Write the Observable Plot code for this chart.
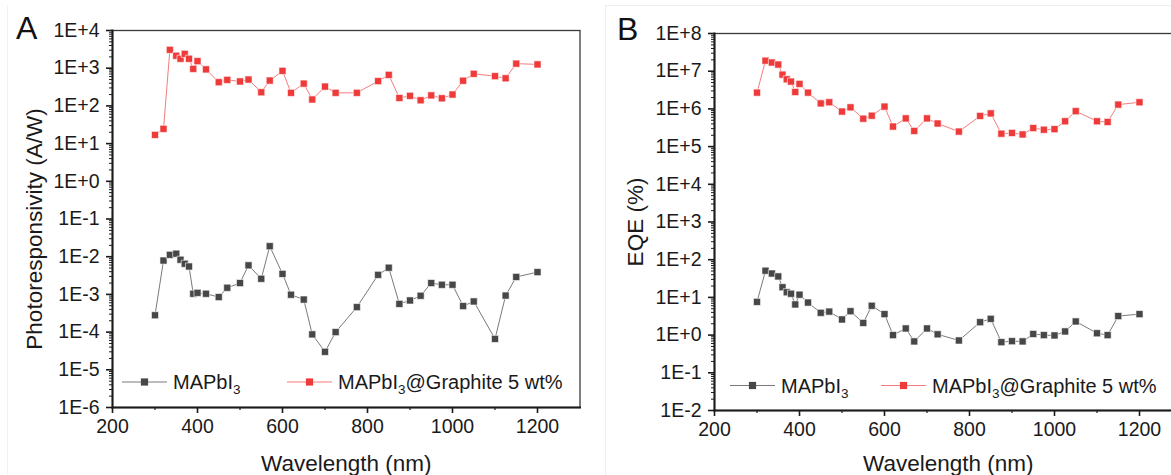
<!DOCTYPE html>
<html>
<head>
<meta charset="utf-8">
<script src="https://cdn.jsdelivr.net/npm/d3@7"></script>
<script src="https://cdn.jsdelivr.net/npm/@observablehq/plot@0.6"></script>
<style>
  html, body { margin: 0; padding: 0; background: #fff; overflow: hidden; width: 1171px; height: 475px; }
  #wrap { position: relative; width: 1171px; height: 475px; overflow: hidden; font-family: "Liberation Sans", Arial, sans-serif; }
  .panel { position: absolute; top: 0; }
  .letter { position: absolute; font-size: 32px; line-height: 1; color: #111; }
  #boxB { position: absolute; left: 605px; top: 5px; width: 600px; height: 500px; border: 1px solid #efefef; }
  #boxA { position: absolute; left: 7px; top: 5px; width: 585px; height: 500px; border-left: 1px solid #f2f2f2; }
</style>
</head>
<body>
<div id="wrap">
  <div id="boxA"></div>
  <div id="boxB"></div>
</div>
<script>
// ---- Data ----
const wavelength = [300,320,335,350,360,370,380,390,400,420,450,470,500,520,550,570,600,620,650,670,700,725,775,825,850,875,900,925,950,975,1000,1025,1050,1100,1125,1150,1200];

const respMAPbI3 = [2.8e-4,7.9e-3,0.0112,0.012,8.3e-3,6.5e-3,5.5e-3,1.04e-3,1.1e-3,
  1.04e-3,8.5e-4,1.5e-3,2.0e-3,5.9e-3,2.6e-3,0.019,
  3.5e-3,9.8e-4,7.3e-4,8.7e-5,3.0e-5,1.0e-4,
  4.6e-4,3.3e-3,5.1e-3,5.6e-4,6.9e-4,9.2e-4,2.0e-3,1.8e-3,1.8e-3,
  4.9e-4,6.5e-4,6.6e-5,9.3e-4,2.9e-3,3.9e-3];
const respGraphite = [17,24.6,3070,2140,1780,2400,1780,960,1540,
  930,425,490,445,500,230,470,
  850,222,390,148,325,222,
  222,455,665,162,185,141,190,159,200,
  465,710,615,540,1320,1260];

const eqeMAPbI3 = [7.6,51,43,36,18.6,13.7,12.5,6.5,11.8,
  7.3,3.9,4.2,2.6,4.3,2.1,6.0,
  3.6,1.0,1.5,0.68,1.5,1.05,
  0.72,2.2,2.7,0.65,0.69,0.68,1.07,1.0,0.98,
  1.25,2.3,1.12,1.0,3.2,3.6];
const eqeGraphite = [2.7e6,1.9e7,1.7e7,1.5e7,8.1e6,6.1e6,5.3e6,2.8e6,4.6e6,
  2.7e6,1.4e6,1.5e6,8.5e5,1.1e6,5.5e5,6.6e5,
  1.15e6,3.4e5,5.6e5,2.6e5,5.6e5,4.1e5,
  2.5e5,6.5e5,7.6e5,2.2e5,2.3e5,2.1e5,3.1e5,2.8e5,2.9e5,
  4.7e5,8.7e5,4.7e5,4.5e5,1.3e6,1.5e6];

const seriesNames = ["MAPbI3", "MAPbI3@Graphite 5 wt%"];
const markerColors = ["#474747", "#ef3a3a"];
const lineColors = ["#7a7a7a", "#f47c7c"];
const xTicksMajor = [200, 400, 600, 800, 1000, 1200];
const xTicksMinor = [300, 500, 700, 900, 1100];
const xDomain = [200, 1300];
const xTitle = "Wavelength (nm)";
const yExpA = [-6, 4];
const yExpB = [-2, 8];

// ---- Helpers ----
const fmtE = d => {
  const e = Math.round(Math.log10(d));
  return "1E" + (e >= 0 ? "+" : "-") + Math.abs(e);
};

function makePanel({expRange, black, red, ylabel, yLabelDx, yLabelDy, xLabelDy, left, width, marginLeft, marginRight, marginTop, marginBottom}) {
  const rows = [];
  wavelength.forEach((w, i) => rows.push({w, v: black[i], s: 0}));
  wavelength.forEach((w, i) => rows.push({w, v: red[i], s: 1}));
  const exps = d3.range(expRange[0], expRange[1] + 1);
  const major = exps.map(e => Math.pow(10, e));
  const minor = exps.slice(0, -1).flatMap(e => d3.range(2, 10).map(k => k * Math.pow(10, e)));
  const svg = Plot.plot({
    width, height: 475,
    marginLeft, marginRight, marginTop, marginBottom,
    style: {fontFamily: "'Liberation Sans', Arial, sans-serif", fontSize: "19.5px", color: "#1a1a1a", background: "transparent", overflow: "visible"},
    x: {domain: xDomain},
    y: {type: "log", domain: [major[0], major[major.length - 1]]},
    marks: [
      Plot.axisY({ticks: minor, tickSize: 3, tickFormat: () => "", label: null, strokeWidth: 1}),
      Plot.axisY({ticks: major, tickSize: 6, tickPadding: 7, tickFormat: fmtE, strokeWidth: 1.6, label: null}),
      Plot.axisX({ticks: xTicksMinor, tickSize: 3, tickFormat: () => "", label: null, strokeWidth: 1.2}),
      Plot.axisX({ticks: xTicksMajor, tickSize: 6, tickPadding: 6, tickFormat: d => String(d), strokeWidth: 1.6, label: null}),
      Plot.text([ylabel], {frameAnchor: "left", rotate: -90, textAnchor: "middle", lineAnchor: "middle",
        dx: yLabelDx, dy: yLabelDy, fontSize: 22.5, fill: "#1a1a1a"}),
      Plot.text([xTitle], {frameAnchor: "bottom", textAnchor: "middle", lineAnchor: "middle",
        dy: xLabelDy, fontSize: 22.5, fill: "#1a1a1a"}),
      Plot.frame({stroke: "#3a3a3a", strokeWidth: 1.3}),
      Plot.frame({anchor: "left", stroke: "#1a1a1a", strokeWidth: 2}),
      Plot.frame({anchor: "bottom", stroke: "#1a1a1a", strokeWidth: 2}),
      Plot.line(rows, {x: "w", y: "v", z: "s", stroke: d => lineColors[d.s], strokeWidth: 1}),
      Plot.dot(rows, {x: "w", y: "v", symbol: "square", r: 4, fill: d => markerColors[d.s], stroke: "#fff", strokeWidth: 0.6})
    ]
  });
  svg.classList.add("panel");
  svg.style.left = left + "px";
  return svg;
}

const wrap = document.getElementById("wrap");
wrap.appendChild(makePanel({expRange: yExpA, black: respMAPbI3, red: respGraphite, ylabel: "Photoresponsivity (A/W)",
  yLabelDx: -78, yLabelDy: 10, xLabelDy: 56,
  left: 0, width: 590, marginLeft: 112, marginRight: 10.5, marginTop: 30, marginBottom: 68}));
wrap.appendChild(makePanel({expRange: yExpB, black: eqeMAPbI3, red: eqeGraphite, ylabel: "EQE (%)",
  yLabelDx: -79, yLabelDy: 0, xLabelDy: 53,
  left: 590, width: 600, marginLeft: 124, marginRight: 8.5, marginTop: 33, marginBottom: 65}));

// ---- Panel letters ----
[["A", 16, 12], ["B", 617, 13]].forEach(([t, x, y]) => {
  const d = document.createElement("div");
  d.className = "letter";
  d.textContent = t;
  d.style.left = x + "px";
  d.style.top = y + "px";
  wrap.appendChild(d);
});

// ---- Legends ----
const ns = "http://www.w3.org/2000/svg";
const overlay = document.createElementNS(ns, "svg");
overlay.setAttribute("width", 1171);
overlay.setAttribute("height", 475);
overlay.style.position = "absolute";
overlay.style.left = "0px";
overlay.style.top = "0px";
overlay.style.fontFamily = "'Liberation Sans', Arial, sans-serif";
wrap.appendChild(overlay);

const legendPos = [
  {y: 382, items: [122, 287]},
  {y: 385.5, items: [730, 881]}
];
legendPos.forEach(p => {
  p.items.forEach((x0, s) => {
    const g = document.createElementNS(ns, "g");
    const line = document.createElementNS(ns, "line");
    line.setAttribute("x1", x0); line.setAttribute("x2", x0 + 45);
    line.setAttribute("y1", p.y); line.setAttribute("y2", p.y);
    line.setAttribute("stroke", lineColors[s]); line.setAttribute("stroke-width", 1.2);
    g.appendChild(line);
    const rect = document.createElementNS(ns, "rect");
    rect.setAttribute("x", x0 + 22.5 - 3.6); rect.setAttribute("y", p.y - 3.6);
    rect.setAttribute("width", 7.2); rect.setAttribute("height", 7.2);
    rect.setAttribute("fill", markerColors[s]);
    g.appendChild(rect);
    const text = document.createElementNS(ns, "text");
    text.setAttribute("x", x0 + 51);
    text.setAttribute("y", p.y + 7);
    text.setAttribute("font-size", "20px");
    text.setAttribute("fill", "#1a1a1a");
    const name = seriesNames[s];
    const idx = name.indexOf("3");
    const t1 = document.createElementNS(ns, "tspan"); t1.textContent = name.slice(0, idx);
    const t2 = document.createElementNS(ns, "tspan"); t2.textContent = "3";
    t2.setAttribute("font-size", "13.5px"); t2.setAttribute("dy", "5");
    text.appendChild(t1); text.appendChild(t2);
    if (idx < name.length - 1) {
      const t3 = document.createElementNS(ns, "tspan"); t3.textContent = name.slice(idx + 1);
      t3.setAttribute("dy", "-5");
      text.appendChild(t3);
    }
    g.appendChild(text);
    overlay.appendChild(g);
  });
});
</script>
</body>
</html>
